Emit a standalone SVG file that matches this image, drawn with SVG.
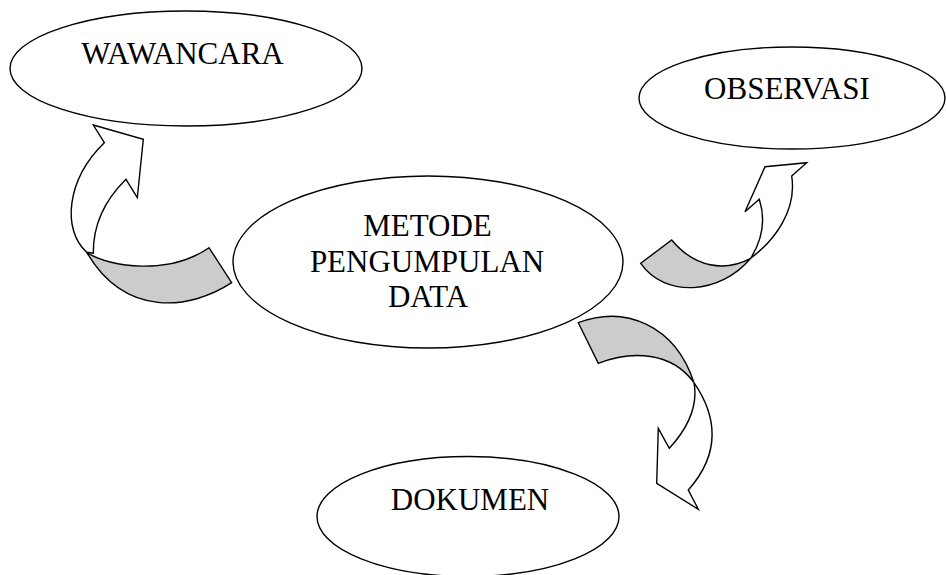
<svg xmlns="http://www.w3.org/2000/svg" width="946" height="575" viewBox="0 0 946 575">
<style>
.node{fill:#ffffff;stroke:#000000;stroke-width:1.4}
.lbl{font-family:"Liberation Serif","Times New Roman",serif;font-size:31px;fill:#000000;text-anchor:middle}
.face{fill:#ffffff;stroke:#000000;stroke-width:1.4;stroke-linejoin:miter}
.under{fill:#cccccc;stroke:#000000;stroke-width:1.4;stroke-linejoin:miter}
</style>
<rect width="946" height="575" fill="#ffffff"/>
<g id="connectors">
  <g id="arrow-wawancara">
    <path class="face" d="M86.7,252.3 C62,230 66,180 104.3,142.7 L93.3,125 L143.3,139.3 L137.3,197.7 L126,179.3 C105,200 93,225 93.3,253.3 Z"/>
    <path class="under" d="M86.7,252.3 C110,268 170,275 209,247.7 L231.7,282.7 C190,310 125,318 86.7,252.3 Z"/>
  </g>
  <g id="arrow-observasi">
    <path class="face" d="M750.7,258.3 C775,240 797,210 791.7,176 L806.7,162.7 L765,166.7 L745,211.7 L759.3,199.3 C766,220 762,240 750.7,258.3 Z"/>
    <path class="under" d="M640.7,263.3 L671.7,240 C695,268 725,272 750.7,258.3 C720,295 665,298 640.7,263.3 Z"/>
  </g>
  <g id="arrow-dokumen">
    <path class="face" d="M694,382.7 C716,415 722,452 688.3,490 L698.3,509.3 L656.7,483.3 L658.3,428.3 L669.3,448.3 C688,428 698,405 694,382.7 Z"/>
    <path class="under" d="M578.3,322.7 C625,305 675,325 694,382.7 C672,352 632,350 598.3,363.3 Z"/>
  </g>
</g>
<g id="node-wawancara">
  <ellipse class="node" cx="186" cy="68.5" rx="176" ry="57.5"/>
  <text class="lbl" x="182.5" y="64">WAWANCARA</text>
</g>
<g id="node-observasi">
  <ellipse class="node" cx="792" cy="98" rx="153" ry="51"/>
  <text class="lbl" x="787" y="99">OBSERVASI</text>
</g>
<g id="node-metode">
  <ellipse class="node" cx="428" cy="262" rx="195" ry="86"/>
  <text class="lbl" x="427.5" y="235.7">METODE</text>
  <text class="lbl" x="427" y="271.7">PENGUMPULAN</text>
  <text class="lbl" x="428" y="307.3">DATA</text>
</g>
<g id="node-dokumen">
  <ellipse class="node" cx="468" cy="516.5" rx="151" ry="60"/>
  <text class="lbl" x="470" y="510">DOKUMEN</text>
</g>
</svg>
